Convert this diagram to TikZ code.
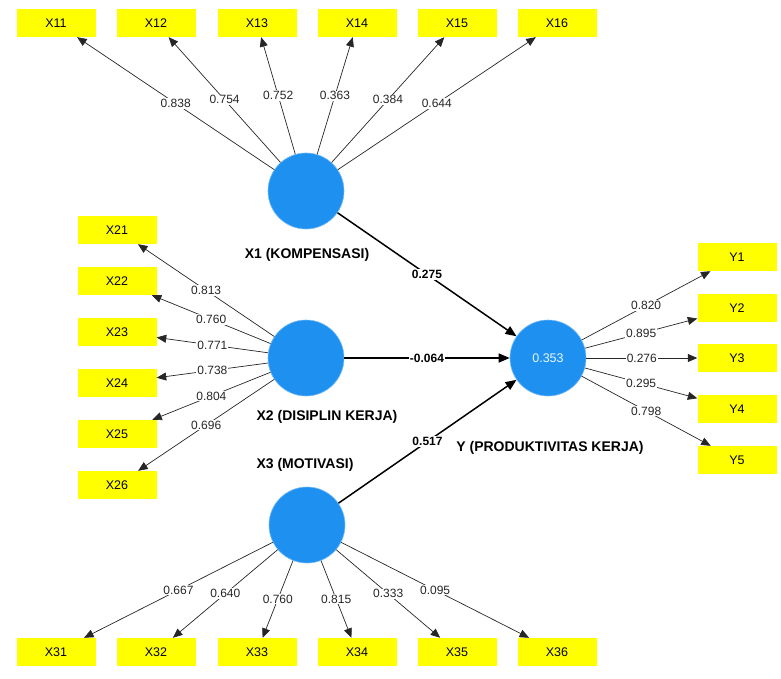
\documentclass[tikz,border=0pt]{standalone}
\usepackage{fontspec}
\setmainfont{Liberation Sans}
\usepackage{xcolor}
\usetikzlibrary{positioning, arrows.meta}

\definecolor{lvblue}{RGB}{30,144,240}
\definecolor{mvyellow}{RGB}{255,255,0}

\begin{document}
\begin{tikzpicture}[x=1pt, y=-1pt,
    latent/.style={circle, fill=lvblue, draw=lvblue!60, line width=0.6pt, minimum size=76pt, inner sep=0pt},
    manifest/.style={rectangle, fill=mvyellow, minimum width=79pt, minimum height=28pt, inner sep=0pt, font=\fontsize{12.5}{14}\selectfont},
    lvname/.style={font=\bfseries\fontsize{14}{16}\selectfont},
    loading/.style={-{Triangle[length=9.5pt, width=8pt]}, line width=0.7pt, black!85},
    pathcoef/.style={-{Triangle[length=11pt, width=9pt]}, line width=1.5pt},
    lval/.style={fill=white, inner sep=1pt, font=\fontsize{12}{14}\selectfont, text=black!85},
    pval/.style={fill=white, inner sep=1pt, font=\bfseries\fontsize{12}{14}\selectfont}]
    \useasboundingbox (0,0) rectangle (781,679);

    % latent variables
    \node[latent] (x1) at (306, 191) {};
    \node[latent] (x2) at (306, 358) {};
    \node[latent] (x3) at (307, 525) {};
    \node[latent, text=cyan!8, font=\fontsize{12.5}{14}\selectfont] (y) at (548, 358) {0.353};

    \node[lvname] (x1name) at (307, 255) {X1 (KOMPENSASI)};
    \node[lvname] (x2name) at (327, 417) {X2 (DISIPLIN KERJA)};
    \node[lvname] (x3name) at (305, 465) {X3 (MOTIVASI)};
    \node[lvname] (yname) at (550, 448) {Y (PRODUKTIVITAS KERJA)};

    % indicators
    \node[manifest] (x11) at (56, 23) {X11};
    \node[manifest] (x12) at (156, 23) {X12};
    \node[manifest] (x13) at (257, 23) {X13};
    \node[manifest] (x14) at (357, 23) {X14};
    \node[manifest] (x15) at (457, 23) {X15};
    \node[manifest] (x16) at (557, 23) {X16};

    \node[manifest] (x21) at (117, 230) {X21};
    \node[manifest] (x22) at (117, 281) {X22};
    \node[manifest] (x23) at (117, 332) {X23};
    \node[manifest] (x24) at (117, 383) {X24};
    \node[manifest] (x25) at (117, 434) {X25};
    \node[manifest] (x26) at (117, 485) {X26};

    \node[manifest] (x31) at (56, 652) {X31};
    \node[manifest] (x32) at (156, 652) {X32};
    \node[manifest] (x33) at (257, 652) {X33};
    \node[manifest] (x34) at (357, 652) {X34};
    \node[manifest] (x35) at (457, 652) {X35};
    \node[manifest] (x36) at (557, 652) {X36};

    \node[manifest] (y1) at (737, 257) {Y1};
    \node[manifest] (y2) at (737, 308) {Y2};
    \node[manifest] (y3) at (737, 358) {Y3};
    \node[manifest] (y4) at (737, 409) {Y4};
    \node[manifest] (y5) at (737, 460) {Y5};

    % outer loadings
    \draw[loading] (x1) -- node[lval] {0.838} (x11);
    \draw[loading] (x1) -- node[lval] {0.754} (x12);
    \draw[loading] (x1) -- node[lval] {0.752} (x13);
    \draw[loading] (x1) -- node[lval] {0.363} (x14);
    \draw[loading] (x1) -- node[lval] {0.384} (x15);
    \draw[loading] (x1) -- node[lval] {0.644} (x16);

    \draw[loading] (x2) -- node[lval] {0.813} (x21);
    \draw[loading] (x2) -- node[lval] {0.760} (x22);
    \draw[loading] (x2) -- node[lval] {0.771} (x23);
    \draw[loading] (x2) -- node[lval] {0.738} (x24);
    \draw[loading] (x2) -- node[lval] {0.804} (x25);
    \draw[loading] (x2) -- node[lval] {0.696} (x26);

    \draw[loading] (x3) -- node[lval] {0.667} (x31);
    \draw[loading] (x3) -- node[lval] {0.640} (x32);
    \draw[loading] (x3) -- node[lval] {0.760} (x33);
    \draw[loading] (x3) -- node[lval] {0.815} (x34);
    \draw[loading] (x3) -- node[lval] {0.333} (x35);
    \draw[loading] (x3) -- node[lval] {0.095} (x36);

    \draw[loading] (y) -- node[lval] {0.820} (y1);
    \draw[loading] (y) -- node[lval] {0.895} (y2);
    \draw[loading] (y) -- node[lval] {0.276} (y3);
    \draw[loading] (y) -- node[lval] {0.295} (y4);
    \draw[loading] (y) -- node[lval] {0.798} (y5);

    % path coefficients
    \draw[pathcoef] (x1) -- node[pval] {0.275} (y);
    \draw[pathcoef] (x2) -- node[pval] {-0.064} (y);
    \draw[pathcoef] (x3) -- node[pval] {0.517} (y);
\end{tikzpicture}
\end{document}
